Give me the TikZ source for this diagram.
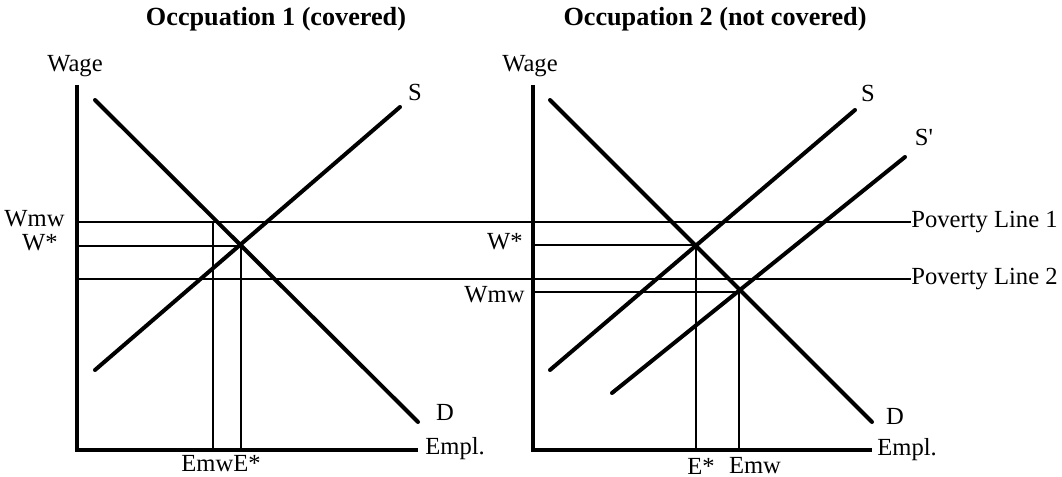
\documentclass[tikz,border=0pt]{standalone}
\usepackage{fontspec}
\setmainfont{Liberation Serif}
\usetikzlibrary{positioning,calc}

\begin{document}
\begin{tikzpicture}[
  x=0.5pt, y=-0.5pt,
  font=\fontsize{12.3}{14}\selectfont,
  axis/.style={line width=2pt},
  curve/.style={line width=2pt, line cap=round},
  guide/.style={line width=0.6pt},
  lbl/.style={inner sep=0pt},
  ttl/.style={inner sep=0pt, font=\fontsize{13.1}{15}\selectfont\bfseries}
]
\useasboundingbox (0,0) rectangle (1062,477);

% ---- occupation 1 (covered)
\coordinate (oA) at (77,450);
\coordinate (yA) at (77,85);
\coordinate (xA) at (418,450);
\coordinate (dA1) at (95,100);
\coordinate (dA2) at (418,422);
\coordinate (sA1) at (95,370);
\coordinate (sA2) at (400,107);
\coordinate (eqA) at (241,246);
\coordinate (mwA) at (213,222);

\node[ttl] (titleA) at (276,19) {Occpuation 1 (covered)};
\node[lbl] (wageA) at (75,66) {Wage};
\node[lbl, anchor=east] (wmwA) at (65,219) {Wmw};
\node[lbl, anchor=east] (wstarA) at (58,243) {W*};
\node[lbl] (eA) at (221,464) {EmwE*};
\node[lbl, anchor=west] (emplA) at (425,449) {Empl.};
\node[lbl] (dlabA) at (445,412) {D};
\node[lbl] (slabA) at (415,92) {S};

\draw[axis] (yA) -- (oA) -- (xA);
\draw[curve] (dA1) -- (dA2);
\draw[curve] (sA1) -- (sA2);
\draw[guide] (oA |- eqA) -- (eqA) -- (eqA |- oA);
\draw[guide] (mwA) -- (mwA |- oA);

% ---- occupation 2 (not covered)
\coordinate (oB) at (533,450);
\coordinate (yB) at (533,85);
\coordinate (xB) at (872,450);
\coordinate (dB1) at (550,100);
\coordinate (dB2) at (872,422);
\coordinate (sB1) at (550,370);
\coordinate (sB2) at (855,110);
\coordinate (spB1) at (612,393);
\coordinate (spB2) at (905,157);
\coordinate (eqB) at (696,245);
\coordinate (mwB) at (739,292);

\node[ttl] (titleB) at (715,19) {Occupation 2 (not covered)};
\node[lbl] (wageB) at (530,66) {Wage};
\node[lbl, anchor=east] (wstarB) at (523,242) {W*};
\node[lbl, anchor=east] (wmwB) at (525,295) {Wmw};
\node[lbl] (estarB) at (701,466) {E*};
\node[lbl] (emwB) at (755,466) {Emw};
\node[lbl, anchor=west] (emplB) at (877,450) {Empl.};
\node[lbl] (dlabB) at (895,416) {D};
\node[lbl] (slabB) at (868,93) {S};
\node[lbl] (splabB) at (924,137) {S\textquotesingle};

\draw[axis] (yB) -- (oB) -- (xB);
\draw[curve] (dB1) -- (dB2);
\draw[curve] (sB1) -- (sB2);
\draw[curve] (spB1) -- (spB2);
\draw[guide] (oB |- eqB) -- (eqB) -- (eqB |- oB);
\draw[guide] (oB |- mwB) -- (mwB) -- (mwB |- oB);

% ---- poverty lines across both panels
\node[lbl, anchor=west] (pov1) at (911,222) {Poverty Line 1};
\node[lbl, anchor=west] (pov2) at (911,279) {Poverty Line 2};
\draw[guide] (oA |- pov1.west) -- (pov1.west);
\draw[guide] (oA |- pov2.west) -- (pov2.west);
\end{tikzpicture}
\end{document}
